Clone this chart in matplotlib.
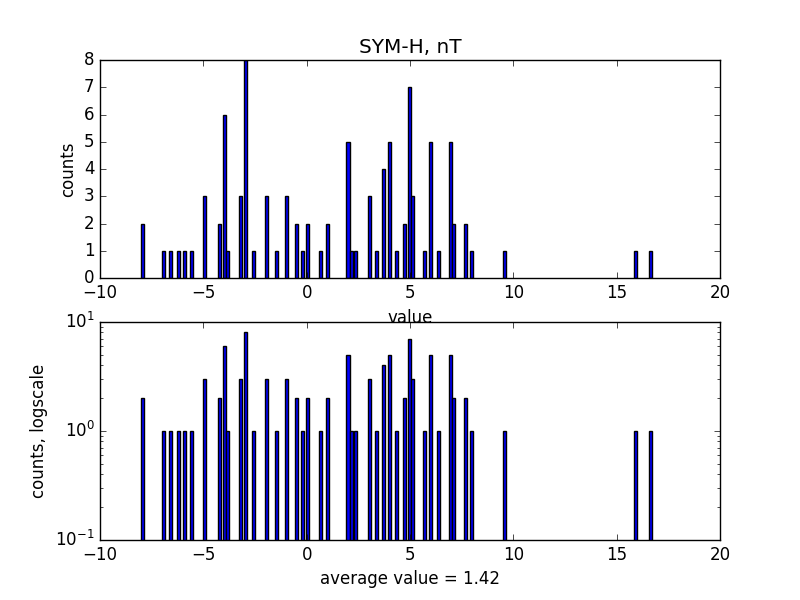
import matplotlib
matplotlib.use('Agg')
import matplotlib.pyplot as plt
import numpy as np

plt.style.use('classic')

# bin centres (nT) and counts
centres = [-7.93, -6.94, -6.57, -6.20, -5.93, -5.57, -4.93, -4.21, -3.97, -3.82,
           -3.21, -2.97, -2.57, -1.96, -1.47, -0.96, -0.48, -0.22, 0.03, 0.65,
           1.02, 2.00, 2.15, 2.38, 3.02, 3.37, 3.73, 3.99, 4.36, 4.74,
           4.98, 5.11, 5.72, 5.98, 6.36, 6.97, 7.12, 7.70, 7.97, 9.58,
           15.89, 16.65]
counts = [2, 1, 1, 1, 1, 1, 3, 2, 6, 1,
          3, 8, 1, 3, 1, 3, 2, 1, 2, 1,
          2, 5, 1, 1, 3, 1, 4, 5, 1, 2,
          7, 3, 1, 5, 1, 5, 2, 2, 1, 1,
          1, 1]
nbins = 165
bin_w = (max(centres) - min(centres)) / nbins

fig = plt.figure(figsize=(8, 6), dpi=100)

ax1 = fig.add_subplot(211)
ax1.bar(centres, counts, width=bin_w, align='center', color='b', edgecolor='k')
ax1.set_xlim(-10, 20)
ax1.set_ylim(0, 8)
ax1.set_title('SYM-H, nT')
ax1.set_xlabel('value')
ax1.set_ylabel('counts')

ax2 = fig.add_subplot(212)
ax2.bar(centres, counts, width=bin_w, align='center', color='b', edgecolor='k', log=True)
ax2.set_xlim(-10, 20)
ax2.set_ylim(0.1, 10)
ax2.set_xlabel('average value = 1.42')
ax2.set_ylabel('counts, logscale')

fig.savefig('out.png', dpi=100)
